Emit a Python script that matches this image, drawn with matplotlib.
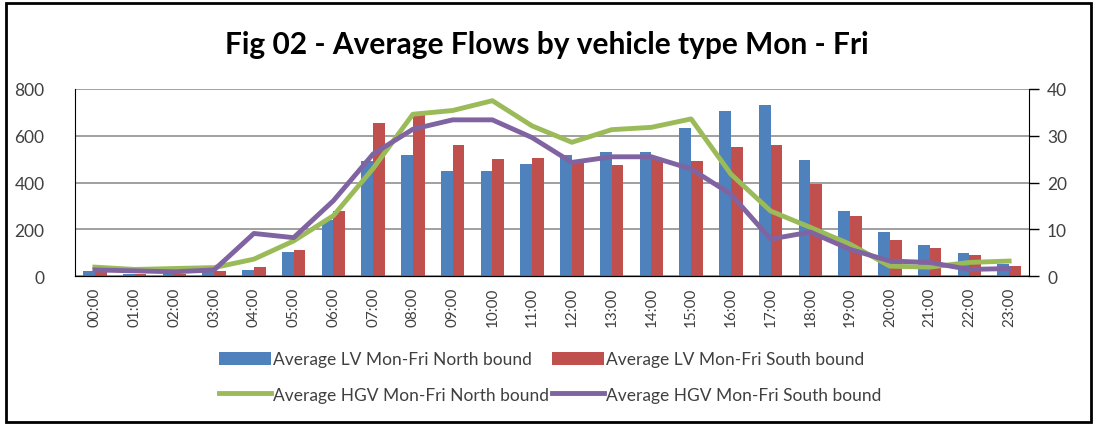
import matplotlib
matplotlib.use("Agg")
import matplotlib.pyplot as plt
import numpy as np
from matplotlib.patches import Rectangle

plt.rcParams["font.family"] = ["Lato", "DejaVu Sans"]

hours = [f"{h:02d}:00" for h in range(24)]

# light vehicles (left axis)
lv_north = [20, 10, 7, 15, 24, 103, 240, 493, 518, 450, 450, 481,
            517, 529, 531, 634, 704, 731, 497, 279, 187, 134, 100, 50]
lv_south = [22, 10, 7, 20, 40, 113, 277, 653, 690, 560, 500, 503,
            490, 474, 500, 490, 554, 561, 393, 256, 154, 121, 89, 41]

# heavy goods vehicles (right axis)
hgv_north = [1.9, 1.4, 1.6, 1.8, 3.6, 7.5, 12.9, 23.0, 34.6, 35.4, 37.5, 32.1,
             28.6, 31.3, 31.8, 33.6, 21.8, 13.9, 10.4, 6.8, 2.1, 1.9, 2.9, 3.2]
hgv_south = [1.3, 1.1, 0.9, 1.3, 9.1, 8.2, 16.1, 26.1, 31.4, 33.4, 33.4, 29.6,
             24.3, 25.5, 25.5, 22.9, 17.5, 7.9, 9.4, 5.7, 3.2, 2.9, 1.4, 1.6]

BLUE = "#4F81BD"
RED = "#C0504D"
GREEN = "#9BBB59"
PURPLE = "#8064A2"
TEXT = "#404040"

fig = plt.figure(figsize=(10.94, 4.27), dpi=100)
ax = fig.add_axes([75 / 1094, 1 - 277 / 427, (1029 - 75) / 1094, (277 - 90) / 427])
ax2 = ax.twinx()

x = np.arange(len(hours))
w = 0.295
b1 = ax.bar(x - w / 2, lv_north, w, color=BLUE, zorder=2,
            label="Average LV Mon-Fri North bound")
b2 = ax.bar(x + w / 2, lv_south, w, color=RED, zorder=2,
            label="Average LV Mon-Fri South bound")
l1, = ax2.plot(x, hgv_north, color=GREEN, lw=3.5, solid_joinstyle="round",
               label="Average HGV Mon-Fri North bound")
l2, = ax2.plot(x, hgv_south, color=PURPLE, lw=3.5, solid_joinstyle="round",
               label="Average HGV Mon-Fri South bound")

ax.set_xlim(-0.5, len(hours) - 0.5)
ax.set_ylim(0, 800)
ax.set_yticks(range(0, 801, 200))
ax2.set_ylim(0, 40)
ax2.set_yticks(range(0, 41, 10))
ax.set_xticks(x)
ax.set_xticklabels(hours, rotation=90, fontsize=11, color=TEXT)
ax.tick_params(axis="x", length=0, pad=8)
ax.tick_params(axis="y", length=0, labelsize=12.5, labelcolor=TEXT, pad=22)
ax2.tick_params(axis="y", length=7, width=1, direction="out", labelsize=12.5,
                labelcolor=TEXT, pad=6)
ax.grid(axis="y", color="#868686", lw=1.1)
ax.set_axisbelow(True)

for a in (ax, ax2):
    a.spines["top"].set_visible(False)
    a.spines["left"].set_color("black")
    a.spines["right"].set_color("black")
    a.spines["bottom"].set_color("black")
ax2.spines["left"].set_visible(False)
ax.spines["right"].set_visible(False)

fig.text(0.5, 1 - 45 / 427, "Fig 02 - Average Flows by vehicle type Mon - Fri",
         ha="center", va="center", fontsize=21.5, fontweight="bold", color="black")

fig.legend([b1, l1, b2, l2],
           [b1.get_label(), l1.get_label(), b2.get_label(), l2.get_label()],
           ncol=2, loc="center", bbox_to_anchor=(550 / 1094, 1 - 378 / 427),
           frameon=False, fontsize=12.5, labelcolor=TEXT, handlelength=3.0,
           handleheight=0.8, handletextpad=0.1, columnspacing=0.2,
           labelspacing=1.1)

fig.add_artist(Rectangle((6 / 1094, 4 / 427), 1085 / 1094, 419 / 427,
                         transform=fig.transFigure, fill=False,
                         edgecolor="black", lw=2))

fig.savefig("out.png", dpi=100)
